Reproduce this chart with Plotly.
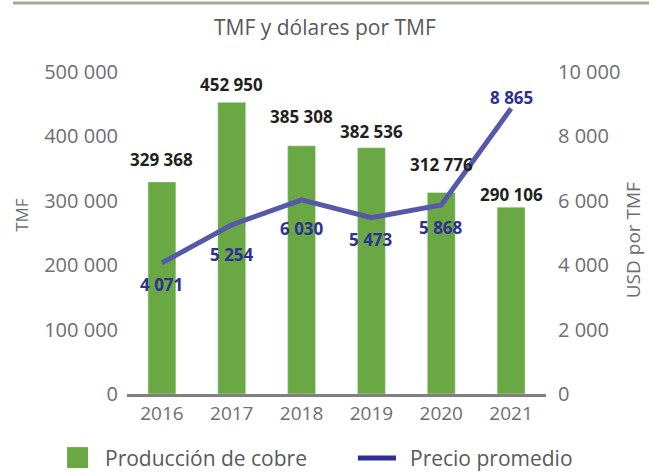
import plotly.graph_objects as go

# data
years = ["2016", "2017", "2018", "2019", "2020", "2021"]
produccion = [329368, 452950, 385308, 382536, 312776, 290106]
precio = [4071, 5254, 6030, 5473, 5868, 8865]
left_ticks = [0, 100000, 200000, 300000, 400000, 500000]
right_ticks = [0, 2000, 4000, 6000, 8000, 10000]

# label offsets in px (style only)
bar_label_shift = [22, 18, 29, 16, 28, 13]
line_label_shift = [-22, -30, -29, -22, -22, 11]

GREEN = "#6aa843"
LINE = "#5659a8"
NAVY = "#2e3192"
GREY = "#6d6e71"
FONT = "Open Sans"


def fmt(v):
    return f"{v:,}".replace(",", " ")


fig = go.Figure()

fig.add_trace(go.Bar(
    x=years, y=produccion, marker_color=GREEN,
    showlegend=False, hoverinfo="skip",
))

fig.add_trace(go.Scatter(
    x=years, y=precio, yaxis="y2", mode="lines",
    line=dict(color=LINE, width=5), showlegend=False, hoverinfo="skip",
))

# numeric-looking year strings would be read as category indices,
# so place value labels by index
annotations = []
for i, (v, s) in enumerate(zip(produccion, bar_label_shift)):
    annotations.append(dict(
        x=i, y=v, xref="x", yref="y", text=fmt(v), showarrow=False,
        xanchor="center", yanchor="middle", yshift=s,
        font=dict(family=FONT, size=17, color="#231f20", weight="bold"),
    ))
for i, (v, s) in enumerate(zip(precio, line_label_shift)):
    annotations.append(dict(
        x=i, y=v, xref="x", yref="y2", text=fmt(v), showarrow=False,
        xanchor="center", yanchor="middle", yshift=s,
        font=dict(family=FONT, size=17, color=NAVY, weight="bold"),
    ))


def note(x, y, text, size, color="#58595b", xanchor="center", angle=0):
    return dict(x=x, y=y, xref="paper", yref="paper", text=text, showarrow=False,
                xanchor=xanchor, yanchor="middle", textangle=angle,
                font=dict(family=FONT, size=size, color=color))


# title, axis titles, legend text
annotations += [
    note(0.473, 1.14, "TMF y dólares por TMF", 21),
    note(-0.251, 0.556, "TMF", 17, GREY, angle=-90),
    note(1.208, 0.478, "USD por TMF", 19, GREY, angle=-90),
    note(-0.057, -0.199, "Producción de cobre", 21, xanchor="left"),
    note(0.671, -0.199, "Precio promedio", 21, xanchor="left"),
]

shapes = [
    # top rule
    dict(type="line", xref="paper", yref="paper", x0=-0.272, x1=1.25, y0=1.214, y1=1.214,
         line=dict(color="#9fac93", width=3)),
    # legend swatches
    dict(type="rect", xref="paper", yref="paper", x0=-0.143, x1=-0.093, y0=-0.165, y1=-0.230,
         fillcolor=GREEN, line=dict(width=0)),
    dict(type="line", xref="paper", yref="paper", x0=0.551, x1=0.642, y0=-0.199, y1=-0.199,
         line=dict(color=NAVY, width=5)),
]

fig.update_layout(
    width=649, height=472,
    margin=dict(l=127, r=103, t=72, b=78),
    paper_bgcolor="white", plot_bgcolor="white",
    bargap=0.6,
    font=dict(family=FONT, color=GREY),
    xaxis=dict(
        type="category", range=[-0.5, len(years) - 0.5],
        showgrid=False, showline=True, linecolor="#808080", linewidth=3,
        ticks="", tickfont=dict(size=19, color=GREY), fixedrange=True,
    ),
    yaxis=dict(
        range=[0, 500000], tickvals=left_ticks, ticktext=[fmt(t) for t in left_ticks],
        showgrid=False, zeroline=False, showline=False, ticks="", ticklabelstandoff=8,
        tickfont=dict(size=20, color=GREY), fixedrange=True,
    ),
    yaxis2=dict(
        range=[0, 10000], tickvals=right_ticks, ticktext=[fmt(t) for t in right_ticks],
        overlaying="y", side="right",
        showgrid=False, zeroline=False, showline=False, ticks="", ticklabelstandoff=11,
        tickfont=dict(size=20, color=GREY), fixedrange=True,
    ),
    annotations=annotations,
    shapes=shapes,
)

fig.write_html("out.html", post_script="document.body.style.margin='0';",
               config={"displayModeBar": False})
